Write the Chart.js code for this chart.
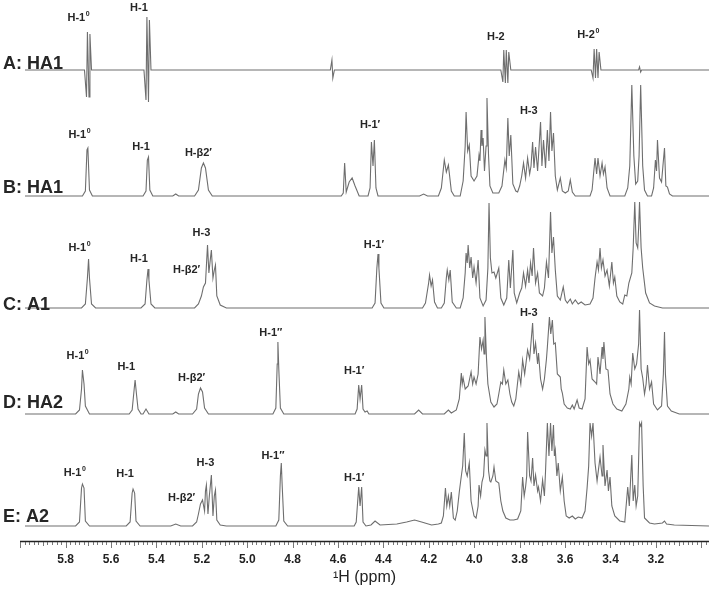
<!DOCTYPE html>
<html>
<head>
<meta charset="utf-8">
<title>1H NMR</title>
<script src="https://cdn.jsdelivr.net/npm/chart.js@4/dist/chart.umd.min.js"></script>
<style>
  html, body { margin: 0; padding: 0; background: #fff; }
  #nmr { display: block; }
</style>
</head>
<body>
<canvas id="nmr" width="720" height="601"></canvas>
<script>
// chemical shift (ppm) and intensity of each trace
const ppmA = [5.979, 5.717,5.708,5.704,5.697,5.693,5.686, 5.455,5.446,5.442,5.435,5.431,5.424, 4.634,4.627,4.623,4.616, 3.883,3.874,3.870,3.863,3.859,3.852,3.848,3.839, 3.485,3.477,3.472,3.466,3.461,3.455,3.450,3.442, 3.276,3.272,3.267,3.263, 2.966];
const intA = [0, 0,-27,38,-27,36,0, 0,-30,53,-32,50,0, 0,10,-8,0, 0,-12,20,-13,20,-13,18,0, 0,-8,21,-8,21,-8,18,0, 0,3,-2,0, 0];

const ppmB = [5.979,5.726,5.713,5.706,5.702,5.695,5.682, 5.459,5.446,5.440,5.435,5.429,5.416, 5.328,5.315,5.302, 5.232,5.215,5.202,5.193,5.184,5.171,5.154, 4.586,4.577,4.571,4.564,4.551,4.538,4.525,4.507, 4.468,4.459,4.453,4.446,4.440,4.433,4.424, 4.241,4.223,4.206, 4.158,4.145,4.132,4.123,4.114,4.101,4.088, 4.062,4.049,4.040,4.036,4.029,4.022,4.014,4.001,3.988,3.979,3.975,3.970,3.966,3.961,3.955,3.948,3.944,3.937,3.931,3.918, 3.892,3.878,3.865,3.859,3.852,3.846,3.839,3.830,3.817, 3.809,3.800,3.791,3.783,3.774,3.765,3.756,3.750,3.743,3.737,3.730,3.721,3.708,3.702,3.695,3.686,3.678,3.671,3.664,3.658,3.651,3.643,3.634,3.621,3.612,3.599,3.586,3.577,3.568,3.555, 3.490,3.481,3.468,3.461,3.455,3.446,3.437,3.431,3.424,3.415,3.402, 3.337,3.324,3.315,3.306,3.297,3.289,3.280,3.274,3.267,3.258,3.250,3.237, 3.219,3.210,3.202,3.197,3.193,3.184,3.175,3.169,3.162,3.156,3.149,3.140,3.127, 2.966];
const intB = [0,0,5,46,48,6,0, 0,5,36,39,6,0, 0,2,0, 0,6,28,33,28,6,0, 0,3,33,4,14,18,10,0, 0,8,54,30,56,8,0, 0,2,0, 0,8,36,24,31,5,0, 0,15,50,84,45,51,20,15,20,41,35,66,50,58,25,50,98,40,10,3, 3,10,36,28,78,40,61,12,5, 4,10,20,33,18,38,22,30,54,28,49,25,74,30,56,28,66,35,84,45,63,20,6,18,5,3,5,16,4,0, 0,6,38,22,38,20,33,22,29,8,0, 0,8,30,111,40,12,15,40,111,30,6,0, 0,8,36,25,56,18,14,30,48,10,9,2,0, 0];

const ppmC = [5.979, 5.730,5.713,5.704,5.699,5.695,5.686,5.668, 5.468,5.450,5.442,5.437,5.433,5.424,5.407, 5.232,5.215,5.202,5.193,5.184,5.175,5.169,5.162,5.158,5.151,5.145,5.140,5.134,5.119,5.092, 4.450,4.437,4.429,4.424,4.420,4.411,4.398, 4.228,4.215,4.201,4.197,4.190,4.184,4.175,4.162, 4.145,4.132,4.123,4.119,4.112,4.106,4.097,4.079, 4.062,4.049,4.040,4.036,4.031,4.027,4.020,4.014,4.007,4.001,3.992,3.983,3.975,3.961,3.948,3.940,3.935,3.929,3.922,3.913,3.905,3.892,3.883,3.870,3.857,3.848,3.841,3.830,3.824,3.813, 3.800,3.791,3.783,3.774,3.765,3.759,3.752,3.745,3.739,3.730,3.721,3.713,3.699,3.691,3.682,3.673,3.664,3.658,3.651,3.643,3.634,3.621,3.608,3.599,3.590,3.577,3.568,3.555,3.542,3.529,3.512,3.490,3.477,3.468,3.459,3.453,3.446,3.440,3.433,3.424,3.415,3.405,3.394,3.387,3.381,3.372,3.359,3.346,3.337,3.328,3.319,3.306,3.300,3.293,3.287,3.280,3.276,3.272,3.265,3.258,3.245,3.228,3.206,3.171, 2.966];
const intC = [0, 0,4,30,49,30,4,0, 0,4,28,39,28,4,0, 0,4,12,21,25,63,35,50,58,30,38,43,12,3,0, 0,5,40,54,40,5,0, 0,5,25,33,22,28,6,0, 0,5,30,38,28,38,6,0, 0,10,35,55,45,63,40,51,30,41,25,48,10,2,8,40,105,50,35,36,30,40,10,3,10,48,20,58,15,5, 15,20,35,22,38,25,45,32,60,25,35,15,12,20,46,30,96,55,71,38,12,8,21,8,5,9,4,8,4,6,3,4,10,30,46,38,60,40,48,32,38,22,46,25,31,12,6,4,13,12,25,35,60,106,65,60,80,106,60,40,15,5,2,0, 0];

const ppmD = [5.979, 5.756,5.739,5.730,5.726,5.719,5.713,5.695, 5.520,5.507,5.498,5.494,5.488,5.481,5.468, 5.459,5.446,5.433, 5.328,5.315,5.302, 5.241,5.223,5.215,5.206,5.197,5.188,5.171, 4.887,4.874,4.868,4.865,4.861,4.854,4.839, 4.525,4.516,4.509,4.503,4.496,4.490,4.481,4.472,4.464, 4.263,4.245,4.228, 4.132,4.114,4.101, 4.079,4.066,4.057,4.053,4.049,4.040,4.027,4.014,4.007,4.001, 3.992,3.983,3.975,3.968,3.961,3.957,3.953,3.946,3.940,3.927, 3.913,3.900,3.892,3.883,3.876,3.870,3.861,3.852,3.843,3.835, 3.826,3.817,3.804,3.795,3.787,3.778,3.765,3.756,3.743,3.737, 3.730,3.721,3.717,3.708,3.699,3.691,3.682,3.678,3.669,3.663, 3.656,3.650,3.643,3.634,3.621,3.617,3.612,3.604,3.590,3.577, 3.568,3.560,3.547,3.538,3.525,3.512,3.503,3.496,3.490,3.481, 3.468,3.461,3.455,3.446,3.437,3.433,3.429,3.420,3.411,3.402, 3.389,3.372,3.350,3.332,3.319,3.315,3.309,3.302,3.293,3.285, 3.276,3.272,3.265,3.258,3.250,3.243,3.237,3.228,3.219,3.210, 3.193,3.175,3.167,3.162,3.158,3.149,3.132,3.097, 2.966];
const intD = [0, 0,4,25,44,30,8,0, 0,4,25,34,20,5,0, 0,5,0, 0,2,0, 0,5,20,26,22,6,0, 0,6,50,72,45,6,0, 0,5,29,15,29,5,2,3,0, 0,4,0, 0,4,1, 4,15,41,30,36,25,28,42,30,37, 30,40,77,65,74,60,97,55,30,12, 7,10,20,32,30,44,30,34,20,12, 8,15,42,30,54,40,64,55,91,60, 71,50,61,35,25,35,55,67,97,80, 94,70,71,40,37,25,21,10,6,5, 9,5,14,6,5,15,67,50,54,35, 32,30,57,40,67,55,72,45,44,20, 10,5,3,10,25,37,30,61,45,50, 70,104,45,36,20,30,49,25,32,10, 4,8,40,82,40,8,3,0, 0];

const ppmE = [5.979, 5.756,5.739,5.730,5.726,5.719,5.713,5.695, 5.533,5.516,5.507,5.503,5.496,5.490,5.472, 5.337,5.315,5.293, 5.241,5.223,5.215,5.206,5.197,5.188,5.184,5.180,5.173,5.167,5.158,5.151,5.145,5.140,5.134,5.119,5.092, 4.874,4.861,4.854,4.850,4.846,4.839,4.822, 4.529,4.520,4.509,4.503,4.496,4.490,4.477, 4.455,4.437,4.415,4.341,4.298,4.263,4.232,4.188,4.158, 4.145,4.136,4.127,4.121,4.114,4.108,4.101,4.092,4.084,4.075, 4.066,4.057,4.051,4.044,4.038,4.031,4.022,4.014,4.001,3.992, 3.983,3.979,3.972,3.966,3.959,3.953,3.948,3.944,3.937,3.931, 3.927,3.918,3.913,3.905,3.892,3.883,3.874,3.861,3.843,3.826, 3.809,3.795,3.787,3.780,3.774,3.769,3.765,3.756,3.750,3.743, 3.737,3.730,3.721,3.717,3.708,3.699,3.691,3.686,3.678,3.671, 3.664,3.658,3.651,3.647,3.643,3.636,3.630,3.621,3.612,3.604, 3.595,3.582,3.568,3.555,3.542,3.525,3.512,3.503,3.496,3.490, 3.483,3.477,3.468,3.459,3.446,3.437,3.433,3.424,3.415,3.409, 3.402,3.394,3.381,3.359,3.337,3.324,3.317,3.306,3.300,3.293, 3.287,3.280,3.272,3.267,3.263,3.256,3.250,3.228,3.206,3.171, 3.162,3.153,3.119, 2.966];
const intE = [0, 0,4,38,42,38,5,0, 0,4,33,37,33,5,0, 0,2,0, 0,4,12,22,26,15,35,41,12,30,51,10,30,36,6,1,0, 0,6,50,63,40,5,0, 0,4,39,20,39,4,0, 1,5,1,2,4,6,4,1,2, 3,10,38,20,30,20,34,8,6,15, 34,50,60,93,55,50,63,25,10,8, 20,41,30,44,50,76,70,103,55,45, 44,50,59,45,43,25,15,8,6,6, 7,15,49,30,39,50,94,50,45,68, 40,51,35,39,25,46,30,55,103,70, 103,75,101,70,76,50,63,35,49,25, 10,8,10,7,9,8,15,38,60,103, 90,103,63,45,69,50,81,40,56,35, 49,20,10,5,4,39,20,71,25,41, 20,30,103,100,103,40,8,3,2,3, 5,2,1, 0];

const traceNames = ['A: HA1', 'B: HA1', 'C: A1', 'D: HA2', 'E: A2'];
const tickLabels = [5.8, 5.6, 5.4, 5.2, 5.0, 4.8, 4.6, 4.4, 4.2, 4.0, 3.8, 3.6, 3.4, 3.2];

// peak assignments: [trace, text, superscript, ppm, height above baseline]
const peakLabels = [
    [0, 'H-1', '0', 5.743, 52], [0, 'H-1', '', 5.477, 62], [0, 'H-2', '', 3.905, 33], [0, 'H-2', '0', 3.498, 35],
    [1, 'H-1', '0', 5.739, 61], [1, 'H-1', '', 5.468, 49], [1, 'H-\u03b22\u2032', '', 5.215, 43], [1, 'H-1\u2032', '', 4.459, 71], [1, 'H-3', '', 3.760, 85],
    [2, 'H-1', '0', 5.739, 60], [2, 'H-1', '', 5.477, 49], [2, 'H-3', '', 5.202, 75], [2, 'H-\u03b22\u2032', '', 5.267, 38], [2, 'H-1\u2032', '', 4.442, 63],
    [3, 'H-1', '0', 5.747, 58], [3, 'H-1', '', 5.533, 47], [3, 'H-\u03b22\u2032', '', 5.245, 36], [3, 'H-1\u2033', '', 4.896, 81], [3, 'H-1\u2032', '', 4.529, 43], [3, 'H-3', '', 3.760, 101],
    [4, 'H-1', '0', 5.760, 53], [4, 'H-1', '', 5.538, 52], [4, 'H-3', '', 5.184, 63], [4, 'H-\u03b22\u2032', '', 5.289, 28], [4, 'H-1\u2033', '', 4.887, 70], [4, 'H-1\u2032', '', 4.529, 48]
];

// vertical stacking of the traces (y units = px of the plot area)
const offsets = [471, 345, 233, 127, 15];
const nameLift = [1, 3, -2, 6, 4];
const FONT = '"Liberation Sans", Arial, Helvetica, sans-serif';

const series = [[ppmA, intA], [ppmB, intB], [ppmC, intC], [ppmD, intD], [ppmE, intE]];

const datasets = series.map(([ppm, val], k) => ({
    label: traceNames[k],
    data: ppm.slice(0, Math.min(ppm.length, val.length)).map((p, i) => ({ x: p, y: offsets[k] + val[i] })),
    showLine: true,
    borderColor: '#6e6e6e',
    borderWidth: 1.1,
    pointRadius: 0,
    tension: 0,
    fill: false
}));

function drawLabel(ctx, cx, cy, main, sup) {
    ctx.font = 'bold 11px ' + FONT;
    const wm = ctx.measureText(main).width;
    ctx.font = 'bold 7px ' + FONT;
    const ws = sup ? ctx.measureText(sup).width + 0.5 : 0;
    const x0 = cx - (wm + ws) / 2;
    ctx.textAlign = 'left';
    ctx.textBaseline = 'middle';
    ctx.font = 'bold 11px ' + FONT;
    ctx.fillText(main, x0, cy);
    if (sup) {
        ctx.font = 'bold 7px ' + FONT;
        ctx.fillText(sup, x0 + wm + 0.5, cy - 4);
    }
}

const decor = {
    id: 'decor',
    afterDraw(chart) {
        const { ctx, chartArea: area, scales: { x, y } } = chart;
        ctx.save();
        // axis line and ticks
        ctx.strokeStyle = '#222';
        ctx.lineWidth = 1.5;
        ctx.beginPath();
        ctx.moveTo(area.left, area.bottom + 0.5);
        ctx.lineTo(area.right, area.bottom + 0.5);
        ctx.stroke();
        ctx.lineWidth = 0.8;
        ctx.strokeStyle = '#555';
        for (let i = 148; i <= 300; i++) {
            const px = x.getPixelForValue(i / 50);
            if (px < area.left || px > area.right) continue;
            const len = i % 10 === 0 ? 6 : (i % 5 === 0 ? 4 : 3);
            ctx.beginPath();
            ctx.moveTo(Math.round(px) + 0.5, area.bottom + 1);
            ctx.lineTo(Math.round(px) + 0.5, area.bottom + 1 + len);
            ctx.stroke();
        }
        // trace names
        ctx.fillStyle = '#262626';
        ctx.font = 'bold 18px ' + FONT;
        ctx.textAlign = 'left';
        ctx.textBaseline = 'alphabetic';
        traceNames.forEach((n, k) => {
            ctx.fillText(n, 3, y.getPixelForValue(offsets[k]) - nameLift[k]);
        });
        // peak assignments
        peakLabels.forEach(([k, t, s, p, h]) => {
            drawLabel(ctx, x.getPixelForValue(p), y.getPixelForValue(offsets[k] + h), t, s);
        });
        ctx.restore();
    }
};

new Chart(document.getElementById('nmr'), {
    type: 'scatter',
    data: { datasets },
    options: {
        responsive: false,
        animation: false,
        events: [],
        layout: { padding: { left: 20, right: 5, top: 0, bottom: 14 } },
        plugins: { legend: { display: false }, tooltip: { enabled: false } },
        scales: {
            x: {
                type: 'linear',
                reverse: true,
                min: 2.966,
                max: 6.001,
                grid: { display: false, drawTicks: false },
                border: { display: false },
                afterFit(scale) { scale.height = 46; },
                ticks: {
                    stepSize: 0.2,
                    autoSkip: false,
                    maxRotation: 0,
                    padding: 11,
                    color: '#222',
                    font: { family: FONT, size: 12, weight: 'bold' },
                    callback(v) {
                        return tickLabels.some(t => Math.abs(t - v) < 1e-6) ? Number(v).toFixed(1) : '';
                    }
                },
                title: {
                    display: true,
                    text: '\u00b9H (ppm)',
                    color: '#222',
                    padding: 0,
                    font: { family: FONT, size: 16 }
                }
            },
            y: {
                display: false,
                min: 0,
                max: 541
            }
        }
    },
    plugins: [decor]
});
</script>
</body>
</html>
